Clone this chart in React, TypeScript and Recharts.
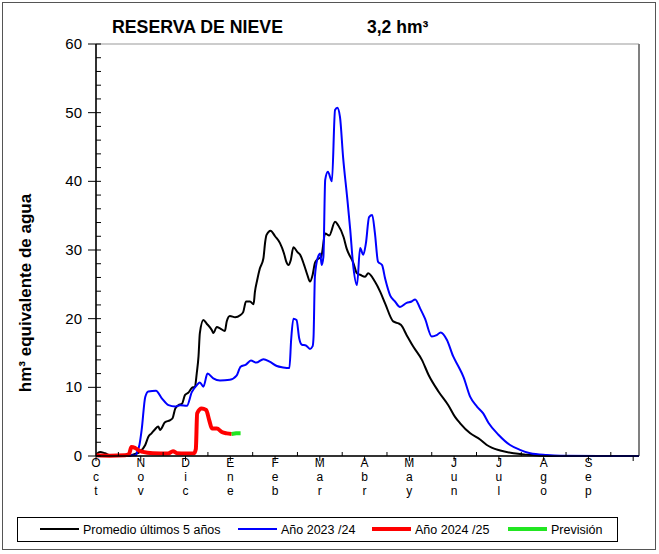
import { LineChart, Line, XAxis, YAxis, CartesianGrid, ReferenceLine } from "recharts";

const FONT = "'Liberation Sans', Arial, sans-serif";

const meses = ["Oct", "Nov", "Dic", "Ene", "Feb", "Mar", "Abr", "May", "Jun", "Jul", "Ago", "Sep"];
const xMax = 12.13;

// x = meses transcurridos desde el 1 de octubre, y = hm3
const promedioX = [
  0, 0.09, 0.2, 0.31, 0.54, 0.76, 0.87, 0.98, 1.1, 1.17, 1.24, 1.32, 1.39, 1.43, 1.54, 1.65, 1.71,
  1.77, 1.84, 1.92, 1.99, 2.06, 2.14, 2.21, 2.25, 2.29, 2.32, 2.4, 2.47, 2.59, 2.62, 2.7, 2.77,
  2.88, 2.92, 2.99, 3.11, 3.22, 3.29, 3.35, 3.44, 3.52, 3.55, 3.6, 3.66, 3.74, 3.78, 3.81, 3.9,
  4.0, 4.11, 4.2, 4.25, 4.3, 4.35, 4.41, 4.5, 4.56, 4.65, 4.72, 4.78, 4.84, 4.89, 4.94, 5.03,
  5.12, 5.21, 5.34, 5.41, 5.53, 5.6, 5.75, 5.83, 5.9, 6.01, 6.08, 6.23, 6.35, 6.46, 6.64, 6.76,
  6.81, 6.94, 7.09, 7.28, 7.43, 7.65, 7.87, 8.02, 8.13, 8.36, 8.58, 8.73, 9.03, 9.33, 9.62, 9.92,
  10.37, 12.13,
];
const promedioY = [
  0.2, 0.6, 0.4, 0.1, 0, 0.05, 0.3, 0.6, 1.6, 2.8, 3.3, 3.9, 4.3, 3.8, 4.9, 5.2, 5.5,
  6.9, 7.4, 7.6, 8.9, 9.2, 9.9, 10.1, 12.0, 14.5, 17.9, 19.8, 19.3, 18.3, 17.9, 18.8, 18.6,
  18.2, 19.6, 20.4, 20.2, 20.5, 21.0, 22.5, 22.5, 22.1, 23.9, 25.6, 27.3, 28.8, 31.2, 32.2, 32.8,
  32.0, 31.0, 29.5, 28.3, 27.8, 28.5, 30.4, 29.7, 29.3, 27.8, 26.4, 25.4, 26.4, 28.1, 28.6, 29.0,
  32.4, 32.1, 34.1, 33.6, 31.9, 30.2, 28.1, 26.6, 26.4, 26.1, 26.6, 25.4, 23.9, 22.2, 19.6, 19.3,
  19.1, 17.6, 15.9, 14.0, 11.8, 9.4, 7.4, 5.7, 4.8, 3.3, 2.4, 1.6, 0.8, 0.4, 0.2, 0.05,
  0, 0,
];

const anio2324X = [
  0, 0.89, 0.92, 0.97, 1.02, 1.1, 1.17, 1.34, 1.47, 1.62, 1.77, 1.88, 2.03, 2.14, 2.25, 2.32,
  2.4, 2.49, 2.62, 2.77, 2.99, 3.14, 3.23, 3.35, 3.46, 3.58, 3.74, 3.89, 4.04, 4.18, 4.32, 4.36,
  4.41, 4.48, 4.54, 4.6, 4.69, 4.78, 4.84, 4.86, 4.89, 4.95, 5.01, 5.04, 5.08, 5.12, 5.18, 5.27,
  5.34, 5.39, 5.45, 5.52, 5.61, 5.68, 5.74, 5.83, 5.9, 5.97, 6.03, 6.1, 6.17, 6.23, 6.3, 6.39,
  6.46, 6.57, 6.68, 6.79, 6.94, 7.05, 7.13, 7.24, 7.35, 7.5, 7.61, 7.7, 7.84, 7.98, 8.1, 8.21,
  8.36, 8.51, 8.65, 8.77, 8.99, 9.25, 9.47, 9.7, 10.07, 10.37, 11.26, 12.13,
];
const anio2324Y = [
  0, 0.1, 0.6, 1.6, 3.8, 8.6, 9.4, 9.5, 8.4, 7.4, 7.2, 7.4, 7.3, 9.3, 10.3, 10.7,
  10.1, 12.0, 11.3, 11.0, 11.1, 11.7, 13.0, 13.3, 13.9, 13.6, 14.1, 13.7, 13.1, 12.9, 12.8, 17.0,
  20.0, 19.8, 17.1, 16.2, 16.1, 15.6, 16.0, 17.4, 26.1, 28.8, 29.5, 27.8, 29.0, 40.2, 41.4, 40.0,
  50.4, 50.7, 49.4, 43.5, 37.7, 32.9, 28.1, 24.9, 30.3, 29.3, 31.0, 34.8, 35.1, 32.5, 28.3, 27.8,
  25.8, 23.4, 22.5, 21.7, 22.3, 22.5, 22.8, 21.5, 20.0, 17.4, 17.6, 18.0, 16.9, 14.5, 13.0, 11.5,
  8.6, 7.2, 6.2, 4.8, 3.1, 1.6, 0.9, 0.4, 0.15, 0.05, 0, 0,
];

const anio2425X = [
  0, 0.31, 0.65, 0.74, 0.79, 0.87, 0.96, 1.05, 1.27, 1.61, 1.72, 1.81, 1.99, 2.19, 2.23, 2.26,
  2.36, 2.46, 2.53, 2.59, 2.7, 2.81, 2.92, 3.03,
];
const anio2425Y = [
  0.1, 0.05, 0.1, 0.3, 1.3, 1.2, 0.8, 0.6, 0.4, 0.35, 0.7, 0.4, 0.35, 0.4, 1.0, 6.2,
  6.9, 6.7, 5.2, 4.0, 4.0, 3.5, 3.3, 3.2,
];

const previsionX = [3.03, 3.13, 3.23];
const previsionY = [3.2, 3.3, 3.3];

const yTicks = Array.from({ length: 31 }, (_, i) => i * 2);
const yGrid = [0, 10, 20, 30, 40, 50, 60];
const xTicks = Array.from({ length: 25 }, (_, i) => i / 2);
const xGrid = Array.from({ length: 13 }, (_, i) => i);

const toPoints = (xs: number[], ys: number[]) => xs.map((x, i) => ({ x, y: ys[i] }));

const promedio = toPoints(promedioX, promedioY);
const anio2324 = toPoints(anio2324X, anio2324Y);
const anio2425 = toPoints(anio2425X, anio2425Y);
const prevision = toPoints(previsionX, previsionY);

const legendItems = [
  { label: "Promedio últimos 5 años", color: "#000000", width: 2 },
  { label: "Año 2023 /24", color: "#0000ff", width: 2 },
  { label: "Año 2024 /25", color: "#ff0000", width: 4 },
  { label: "Previsión", color: "#22e622", width: 4 },
];

function MonthTick(props: any) {
  const { x, y, payload } = props;
  const v = payload.value;
  if (!Number.isInteger(v)) {
    return <line x1={x} x2={x} y1={y} y2={y - 4} stroke="#000" />;
  }
  const name = meses[v];
  return (
    <g>
      <line x1={x} x2={x} y1={y} y2={y + 5} stroke="#000" />
      {name &&
        name.split("").map((c: string, i: number) => (
          <text key={i} x={x} y={y + 11 + i * 14} textAnchor="middle" fontSize={12} fontFamily={FONT} fill="#000">
            {c}
          </text>
        ))}
    </g>
  );
}

function ValueTick(props: any) {
  const { x, y, payload } = props;
  const v = payload.value;
  if (v % 10 !== 0) {
    return <line x1={x} x2={x + 5} y1={y} y2={y} stroke="#000" />;
  }
  return (
    <g>
      <line x1={x - 8} x2={x + 5} y1={y} y2={y} stroke="#000" />
      <text x={x - 14} y={y + 5} textAnchor="end" fontSize={15} fontFamily={FONT} fill="#000">
        {v}
      </text>
    </g>
  );
}

export default function App() {
  const legendX = [40, 238, 372, 508];
  return (
    <div style={{ position: "absolute", left: 0, top: 0, width: 659, height: 554, background: "#fff" }}>
      <LineChart width={659} height={554} margin={{ top: 44, right: 20, bottom: 68, left: 36 }}>
        <XAxis
          dataKey="x"
          type="number"
          domain={[0, xMax]}
          allowDataOverflow
          ticks={xTicks}
          interval={0}
          height={30}
          tickSize={0}
          tickMargin={0}
          tickLine={false}
          tick={<MonthTick />}
          axisLine={{ stroke: "#000", strokeWidth: 1.5 }}
        />
        <XAxis xAxisId="grid" dataKey="x" type="number" domain={[0, xMax]} ticks={xGrid} hide />
        <YAxis
          type="number"
          domain={[0, 60]}
          ticks={yTicks}
          interval={0}
          width={60}
          tickSize={0}
          tickMargin={0}
          tickLine={false}
          tick={<ValueTick />}
          axisLine={{ stroke: "#000", strokeWidth: 1.5 }}
        />
        <YAxis yAxisId="grid" type="number" domain={[0, 60]} ticks={yGrid} hide />
        <CartesianGrid xAxisId="grid" yAxisId="grid" stroke="#9a9a9a" strokeWidth={1.2} />
        <ReferenceLine x={xMax} stroke="#808080" strokeWidth={2} />
        <Line data={promedio} dataKey="y" type="monotone" stroke="#000" strokeWidth={2} dot={false} isAnimationActive={false} />
        <Line data={anio2324} dataKey="y" type="monotone" stroke="#0000ff" strokeWidth={2} dot={false} isAnimationActive={false} />
        <Line data={anio2425} dataKey="y" type="monotone" stroke="#ff0000" strokeWidth={4} dot={false} isAnimationActive={false} />
        <Line data={prevision} dataKey="y" type="linear" stroke="#22e622" strokeWidth={4} dot={false} isAnimationActive={false} />
      </LineChart>

      <svg width={659} height={554} style={{ position: "absolute", left: 0, top: 0, pointerEvents: "none" }} fontFamily={FONT}>
        <rect x={2.5} y={2.5} width={653} height={547} fill="none" stroke="#555" strokeWidth={1} />
        <text x={112} y={32.5} fontWeight="bold" fontSize={17.5} textLength={171} lengthAdjust="spacingAndGlyphs" fill="#000">
          RESERVA DE NIEVE
        </text>
        <text x={367} y={32.5} fontWeight="bold" fontSize={17.5} fill="#000">3,2 hm³</text>
        <text transform="translate(31,293) rotate(-90)" textAnchor="middle" fontWeight="bold" fontSize={17} fill="#000">
          hm³ equivalente de agua
        </text>
        <rect x={17.5} y={517.5} width={600} height={24} fill="#fff" stroke="#000" strokeWidth={1} />
        {legendItems.map((it, i) => (
          <g key={it.label}>
            <line x1={legendX[i]} x2={legendX[i] + 39} y1={529} y2={529} stroke={it.color} strokeWidth={it.width} />
            <text x={legendX[i] + 43} y={534} fontSize={12.5} fill="#000">{it.label}</text>
          </g>
        ))}
      </svg>
    </div>
  );
}
